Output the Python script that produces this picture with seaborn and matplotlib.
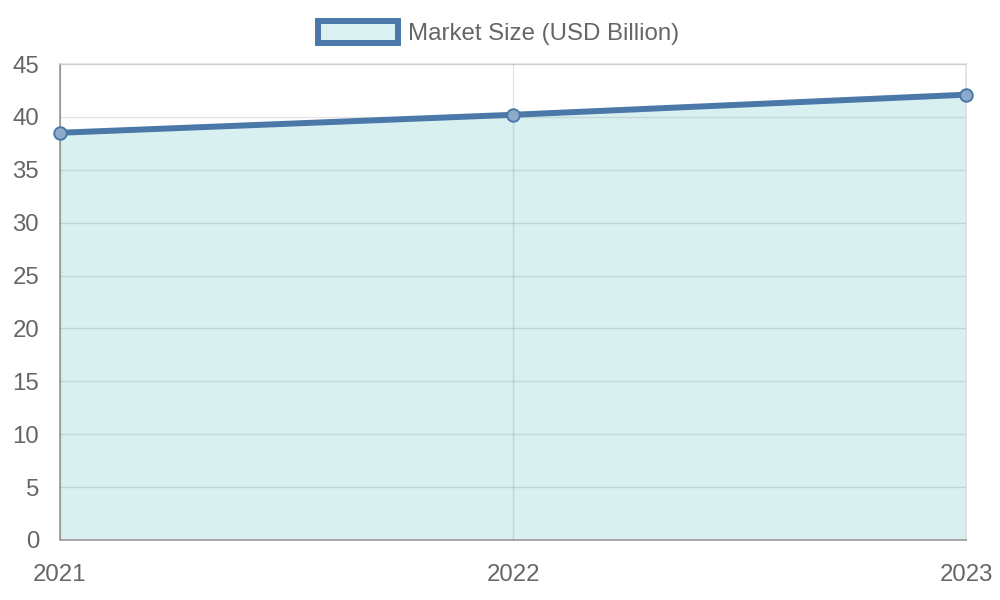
import seaborn as sns
import matplotlib.pyplot as plt
import pandas as pd
from matplotlib.patches import Patch

years = [2021, 2022, 2023]
market_size = [38.5, 40.2, 42.1]
y_ticks = [0, 5, 10, 15, 20, 25, 30, 35, 40, 45]

line_color = '#4a78a8'
fill_color = '#b5e2e4'
text_color = '#666666'
grid_color = '#e2e2e2'

sns.set_style("white")
plt.rcParams['font.family'] = ['Liberation Sans', 'DejaVu Sans']

df = pd.DataFrame({'Year': years, 'Market Size': market_size})

fig = plt.figure(figsize=(10, 6), dpi=100)
ax = fig.add_axes([0.06, 0.1, 0.906, 0.7933])

ax.fill_between(df['Year'], df['Market Size'], 0, color=fill_color, alpha=0.5,
                linewidth=0, zorder=1)
# grid drawn over the fill, slightly transparent like the original
ax.grid(True, color='black', alpha=0.1, linewidth=1)
ax.set_axisbelow(False)
for gl in ax.get_xgridlines() + ax.get_ygridlines():
    gl.set_zorder(1.5)

sns.lineplot(data=df, x='Year', y='Market Size', ax=ax, color=line_color,
             linewidth=4.3, marker='o', markersize=9,
             markerfacecolor='#8eaacb', markeredgecolor=line_color,
             markeredgewidth=1.4, zorder=3)
for ln in ax.lines:
    ln.set_clip_on(False)  # keep the end markers whole

ax.set_xlim(years[0], years[-1])
ax.set_ylim(0, 45)
ax.set_xticks(years)
ax.set_xticklabels([str(y) for y in years])
ax.set_yticks(y_ticks)
ax.set_xlabel('')
ax.set_ylabel('')
ax.tick_params(axis='both', colors='#cccccc', labelcolor=text_color,
               labelsize=17.3, length=14, width=1.2)
ax.tick_params(axis='y', pad=1)
ax.tick_params(axis='x', pad=3)

for side in ['top', 'right']:
    ax.spines[side].set_color(grid_color)
    ax.spines[side].set_linewidth(1.2)
for side in ['left', 'bottom']:
    ax.spines[side].set_color('#a8a8a8')
    ax.spines[side].set_linewidth(1.4)
    ax.spines[side].set_zorder(2.5)

handle = Patch(facecolor='#daf0f1', edgecolor=line_color, linewidth=4.3,
               label='Market Size (USD Billion)')
fig.legend(handles=[handle], loc='center', bbox_to_anchor=(0.499, 0.945),
           frameon=False, fontsize=17.3, labelcolor=text_color,
           handlelength=3.3, handleheight=1.0, handletextpad=0.45)

plt.savefig('out.png', dpi=100)
